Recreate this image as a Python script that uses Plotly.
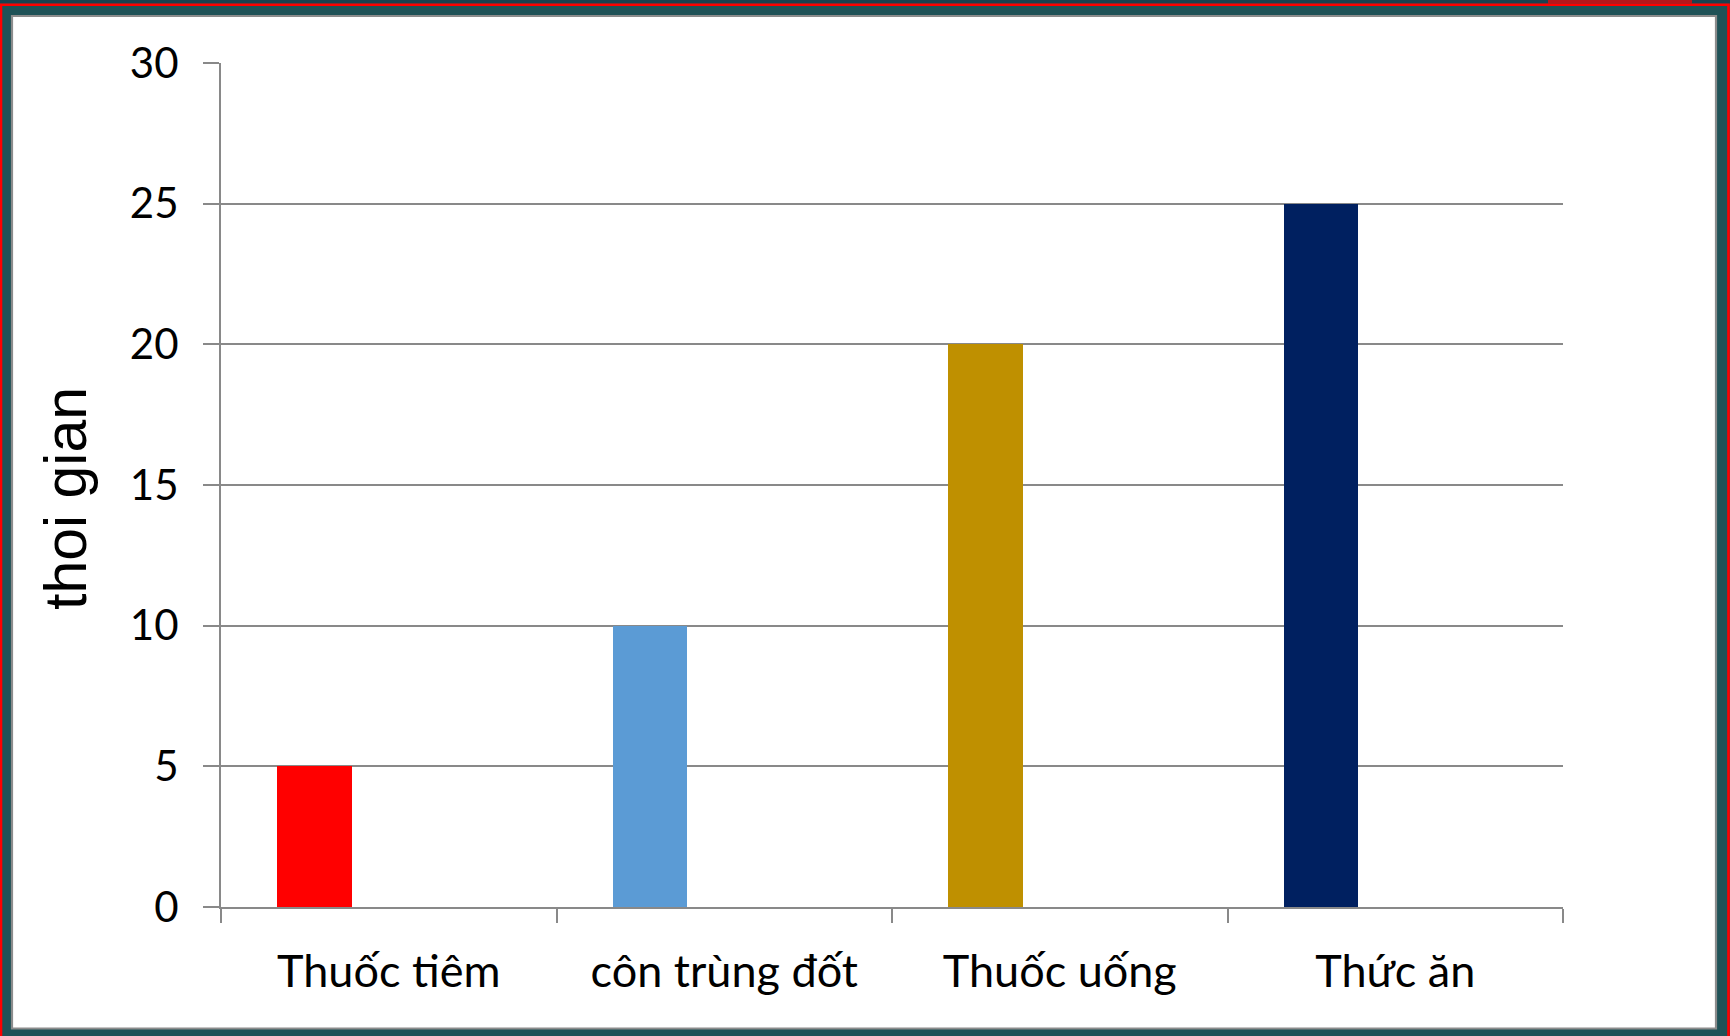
import plotly.graph_objects as go

categories = ["Thuốc tiêm", "côn trùng đốt", "Thuốc uống", "Thức ăn"]
values = [5, 10, 20, 25]
bar_colors = ["#FF0000", "#5B9BD5", "#BF9000", "#002060"]
y_ticks = [0, 5, 10, 15, 20, 25, 30]
y_title = "thoi gian"

W, H = 1730, 1036
L, R, T, B = 221, 1563, 63, 907  # plot area in pixels

def px(x):
    return (x - L) / (R - L)

def py(y):
    return (B - y) / (B - T)

fig = go.Figure()
fig.add_trace(go.Bar(
    x=categories, y=values,
    marker=dict(color=bar_colors, line=dict(width=0)),
    width=0.222, offset=-0.333,
    showlegend=False,
))

shapes = [
    # top dark strip
    dict(type="rect", xref="paper", yref="paper", x0=px(-10), x1=px(W + 10), y0=py(-10), y1=py(3.5),
         fillcolor="#1A4250", line=dict(width=0), layer="below"),
    dict(type="rect", xref="paper", yref="paper", x0=px(1548), x1=px(1692), y0=py(-10), y1=py(3.5),
         fillcolor="#B5161A", line=dict(width=0), layer="below"),
    # red frame
    dict(type="rect", xref="paper", yref="paper", x0=px(1), x1=px(1728.5), y0=py(4.8), y1=py(1060),
         fillcolor="rgba(0,0,0,0)", line=dict(color="#FF0000", width=2.6), layer="below"),
    # white panel with grey border
    dict(type="rect", xref="paper", yref="paper", x0=px(12), x1=px(1716), y0=py(16), y1=py(1028.5),
         fillcolor="#FFFFFF", line=dict(color="#8C8C8C", width=2.2), layer="below"),
]

font_family = "Lato, Carlito, Calibri, sans-serif"

fig.add_annotation(
    text=y_title, textangle=-90, showarrow=False,
    xref="paper", yref="paper", x=px(66), y=py(499),
    xanchor="center", yanchor="middle",
    font=dict(size=59, family="Liberation Sans, Arial, sans-serif", color="#000000"),
)

fig.update_layout(
    width=W, height=H,
    margin=dict(l=L, r=W - R, t=T, b=H - B, pad=0),
    paper_bgcolor="#1F5257",
    plot_bgcolor="rgba(0,0,0,0)",
    shapes=shapes,
    font=dict(family=font_family, color="#000000", size=42),
    xaxis=dict(
        type="category",
        tickson="boundaries",
        ticks="outside", ticklen=14, tickwidth=2, tickcolor="#898989",
        showline=True, linecolor="#898989", linewidth=2,
        showgrid=False,
        tickfont=dict(size=45, family=font_family),
        ticklabelstandoff=24,
    ),
    yaxis=dict(
        range=[0, 30],
        tickvals=y_ticks,
        ticks="outside", ticklen=16, tickwidth=2, tickcolor="#898989",
        showline=True, linecolor="#898989", linewidth=2,
        showgrid=True, gridcolor="#898989", gridwidth=2.2,
        zeroline=False,
        tickfont=dict(size=42, family=font_family),
        ticklabelstandoff=16,
    ),
    bargap=0,
)

fig.write_html("out.html")
